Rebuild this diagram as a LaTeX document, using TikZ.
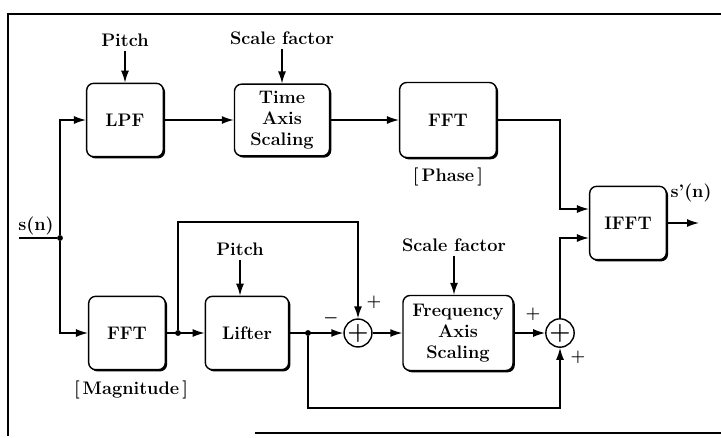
\documentclass[tikz,border=0pt]{standalone}
\usepackage{tikz}
\usetikzlibrary{arrows.meta,positioning,calc,shadows}

\begin{document}
\begin{tikzpicture}[
    x=0.03cm, y=-0.03cm,
    font=\bfseries\fontsize{15.5}{18}\selectfont,
    >={Latex[length=3.6mm,width=2.4mm]},
    % Styles
    block/.style={rectangle, draw, line width=1.2pt, rounded corners=6pt, fill=white, drop shadow={shadow xshift=1.5pt, shadow yshift=-1.5pt, fill=black, opacity=1}, minimum width=2.3cm, minimum height=2.2cm, align=center},
    adder/.style={circle, draw, line width=1.2pt, fill=white, minimum size=0.75cm, inner sep=0pt, font=\huge\boldmath},
    dot/.style={circle, fill, inner sep=0pt, minimum size=5pt},
    arrow/.style={->, line width=1.2pt},
    line/.style={-, line width=1.2pt},
    sign/.style={font=\bfseries\Large\boldmath}
]
\useasboundingbox (0,0) rectangle (721,437);

% --- Frame ---
\draw[line] (721,14) -- (8,14) -- (8,436);
\draw[line] (255,433) -- (721,433);

% --- Upper path (phase) ---
\node[block] (lpf) at (125,120) {LPF};
\node[block, minimum width=2.85cm, minimum height=2.15cm] (tas) at (282,120) {Time\\Axis\\Scaling};
\node[block, minimum width=2.9cm, minimum height=2.25cm] (fftp) at (448,120) {FFT};
\node (phase) at (448,177) {[\,Phase\,]};
\node (pitch1) at (125,40) {Pitch};
\node (scale1) at (282,38) {Scale factor};

% --- Lower path (magnitude) ---
\node[block] (fftm) at (127,333) {FFT};
\node (mag) at (131,390) {[\,Magnitude\,]};
\node[block, minimum width=2.5cm] (lifter) at (247,333) {Lifter};
\node (pitch2) at (240,249) {Pitch};
\node[adder] (add1) at (358,333) {$+$};
\node[block, minimum width=3.3cm, minimum height=2.25cm] (fas) at (458,333) {Frequency\\Axis\\Scaling};
\node (scale2) at (454,245) {Scale factor};
\node[adder, minimum size=0.85cm] (add2) at (560,333) {$+$};

% --- Output ---
\node[block] (ifft) at (628,223) {IFFT};
\node (sprime) at (691,193) {s'(n)};
\node (sn) at (36,226) {s(n)};

% --- Junctions ---
\node[dot] (jin) at (60,238) {};
\node[dot] (jm) at (178,333) {};
\node[dot] (jl) at (308,333) {};
\coordinate (src) at (19,238);
\coordinate (ltop) at (178,222);
\coordinate (lbot) at (308,408);
\coordinate (sout) at (699,223);
\coordinate (ifftA) at ($(ifft.west)+(0,-14)$);
\coordinate (ifftB) at ($(ifft.west)+(0,15)$);

% --- Connections ---
\draw[line] (src) -- (jin);
\draw[arrow] (jin) |- (lpf);
\draw[arrow] (jin) |- (fftm);
\draw[arrow] (pitch1) -- (lpf);
\draw[arrow] (scale1) -- (tas);
\draw[arrow] (lpf) -- (tas);
\draw[arrow] (tas) -- (fftp);
\draw[arrow] (fftp) -| (add2 |- ifftA) -- (ifftA);

\draw[arrow] (fftm) -- (lifter);
\draw[arrow] (pitch2) -- (pitch2 |- lifter.north);
\draw[arrow] (jm) -- (ltop) -| (add1);
\draw[arrow] (lifter) -- (add1);
\draw[arrow] (jl) -- (lbot) -| (add2);
\draw[arrow] (add1) -- (fas);
\draw[arrow] (scale2) -- (scale2 |- fas.north);
\draw[arrow] (fas) -- (add2);
\draw[arrow] (add2) |- (ifftB);
\draw[arrow] (ifft) -- (sout);

% --- Signs ---
\node[sign] (s1) at (331,318) {$-$};
\node[sign] (s2) at (374,302) {$+$};
\node[sign] (s3) at (533,314) {$+$};
\node[sign] (s4) at (578,357) {$+$};

\end{tikzpicture}
\end{document}
